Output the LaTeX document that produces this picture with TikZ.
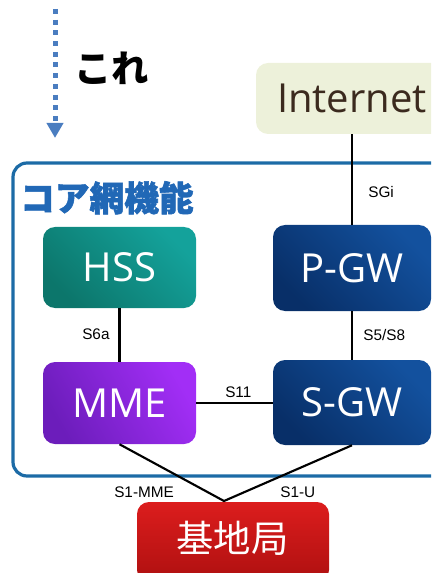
\documentclass[tikz,border=0pt]{standalone}
\usepackage{fontspec}
\setmainfont{Liberation Sans}
\newfontfamily\boxfont{Open Sans}
\newfontfamily\jpfont{Noto Sans CJK JP}
\newfontfamily\jpheavy{Noto Sans CJK JP}[BoldFeatures={FakeBold=1.6}]
\usetikzlibrary{arrows.meta}
\definecolor{arrowblue}{HTML}{4A7DC0}
\definecolor{coreblue}{HTML}{1C6BA6}
\definecolor{titleblue}{HTML}{2168B6}
\definecolor{inetfill}{HTML}{EDF1DA}
\definecolor{inettext}{HTML}{3B2A1E}
\definecolor{hssdark}{HTML}{0C766B}
\definecolor{hsslight}{HTML}{14A29B}
\definecolor{gwdark}{HTML}{082F68}
\definecolor{gwlight}{HTML}{13519E}
\definecolor{mmedark}{HTML}{6C1DBB}
\definecolor{mmelight}{HTML}{A22EF6}
\definecolor{bstop}{HTML}{DC1D1D}
\definecolor{bsbottom}{HTML}{AE1010}
\tikzset{
  fbox/.style={rounded corners=9pt, inner sep=0pt, text=white,
    font=\boxfont\fontsize{30}{30}\selectfont},
  conn/.style={line width=1.6pt, black},
  lbl/.style={anchor=west, inner sep=0pt, font=\fontsize{11.5}{12}\selectfont},
  corebox/.style={draw=coreblue, line width=2.4pt, rounded corners=10.5pt, inner sep=0pt},
}
\begin{document}
\begin{tikzpicture}[x=0.75pt,y=-0.75pt]
\useasboundingbox (0,0) rectangle (431,573);
\clip (0,0) rectangle (431,573);
% dotted arrow and text
\coordinate (arrS) at (55,9);
\coordinate (arrE) at (55,138);
\draw[arrowblue, line width=3.75pt, dash pattern=on 3.75pt off 4.275pt,
  -{Triangle[width=12pt,length=11.25pt]}] (arrS) -- (arrE);
\node[anchor=base west, inner sep=0pt, font=\jpfont\bfseries\fontsize{28}{30}\selectfont] (kore) at (74,83) {これ};
% internet
\node[fbox, fill=inetfill, text=inettext, minimum width=144pt, minimum height=53.25pt] (inet) at (352,98.5) {Internet};
% core box
\node[corebox, minimum width=326.25pt, minimum height=234.75pt] (core) at (230.5,319.5) {};
\node[anchor=base west, inner sep=0pt, text=titleblue, font=\jpheavy\bfseries\fontsize{26}{28}\selectfont] (title) at (20,211) {コア網機能};
% function boxes
\node[fbox, top color=hsslight, bottom color=hssdark, shading angle=-45, minimum width=114.75pt, minimum height=60.75pt] (hss) at (119.5,267.5) {HSS};
\node[fbox, top color=gwlight, bottom color=gwdark, shading angle=-45, minimum width=118.5pt, minimum height=64.5pt] (pgw) at (352,268) {P-GW};
\node[fbox, top color=mmelight, bottom color=mmedark, shading angle=-60, minimum width=114.75pt, minimum height=61.5pt] (mme) at (119.5,403) {MME};
\node[fbox, top color=gwlight, bottom color=gwdark, shading angle=-45, minimum width=118.5pt, minimum height=63.75pt] (sgw) at (352,402.5) {S-GW};
\node[fbox, top color=bstop, bottom color=bsbottom, minimum width=144pt, minimum height=60pt] (bs) at (233,542) {};
\node[anchor=base, inner sep=0pt, text=white, font=\jpfont\fontsize{28}{30}\selectfont] (bstext) at (232.5,552) {基地局};
\coordinate (bsj) at (224,501);
% connectors
\draw[conn] (inet.south) -- (pgw.north);
\draw[conn] (hss.south) -- (mme.north);
\draw[conn] (pgw.south) -- (sgw.north);
\draw[conn] (mme.east) -- (mme.east -| sgw.west);
\draw[conn] (mme.south) -- (bsj) -- (sgw.south);
% labels
\node[lbl] (lsgi) at (368,192) {SGi};
\node[lbl] (ls6a) at (82,334) {S6a};
\node[lbl] (ls5) at (363,335.5) {S5/S8};
\node[lbl] (ls11) at (225,392) {S11};
\node[lbl] (ls1m) at (114,492.5) {S1-MME};
\node[lbl] (ls1u) at (280,492.5) {S1-U};
\end{tikzpicture}
\end{document}
